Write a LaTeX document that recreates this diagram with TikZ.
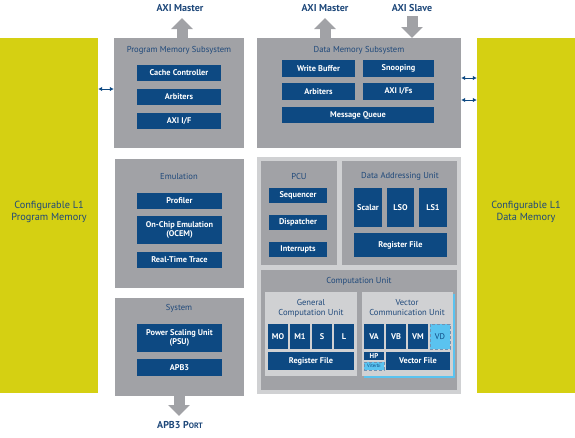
\documentclass[tikz,border=0pt]{standalone}
\usepackage{fontspec}
\setmainfont{PT Sans}
\usetikzlibrary{arrows.meta}
\definecolor{cyellow}{RGB}{213,208,18}
\definecolor{cgray}{RGB}{161,162,166}
\definecolor{clight}{RGB}{208,209,211}
\definecolor{cblue}{RGB}{13,73,130}
\definecolor{ctext}{RGB}{30,72,122}
\definecolor{clblue}{RGB}{90,195,240}
\tikzset{
  mem/.style={fill=cyellow, draw=none, inner sep=0, text=ctext, align=center, font=\fontsize{10.3}{12.5}\selectfont},
  sub/.style={fill=cgray, draw=none, inner sep=0},
  pale/.style={fill=clight, draw=none, inner sep=0},
  blk/.style={fill=cblue, draw=none, inner sep=0, text=white, align=center, font=\bfseries\fontsize{8.3}{9.5}\selectfont},
  dashblk/.style={fill=clblue, draw=cblue!60, densely dashed, line width=0.5pt, inner sep=0, text=cblue, align=center, font=\fontsize{8.3}{9.5}\selectfont},
  ttl/.style={text=ctext, inner sep=0, align=center, font=\fontsize{8.6}{10}\selectfont},
  port/.style={text=ctext, inner sep=0, font=\bfseries\fontsize{10}{12}\selectfont},
  bigarrow/.style={draw=cgray, line width=11pt, -{Triangle[width=21pt,length=11pt]}},
  dbl/.style={draw=cblue, line width=1pt, {Latex[length=4pt,width=4.5pt]}-{Latex[length=4pt,width=4.5pt]}}
}
\newcommand\bbox[7]{\node[#1, minimum width={(#5-#3)*1pt}, minimum height={(#6-#4)*1pt}] (#2) at ({(#3+#5)/2},{(#4+#6)/2}) {#7};}
\begin{document}
\begin{tikzpicture}[x=1pt,y=-1pt]
\useasboundingbox (0,0) rectangle (575,437);
% L1 memories
\bbox{mem}{lmem}{0}{38}{98}{393}{Configurable L1\\Program Memory\\[-3.5pt]}
\bbox{mem}{rmem}{477}{38}{575}{393}{Configurable L1\\Data Memory\\[-3.5pt]}
% Program memory subsystem
\bbox{sub}{pms}{114}{38}{244}{148}{}
\node[ttl] (pmst) at (179,50) {Program Memory Subsystem};
\bbox{blk}{cache}{137}{65}{221}{81}{Cache Controller}
\bbox{blk}{parb}{137}{89}{221}{105}{Arbiters}
\bbox{blk}{paxi}{137}{113}{221}{129}{AXI I/F}
% Data memory subsystem
\bbox{sub}{dms}{257}{38}{461}{148}{}
\node[ttl] (dmst) at (359,50) {Data Memory Subsystem};
\bbox{blk}{wbuf}{282}{60}{355}{77}{Write Buffer}
\bbox{blk}{snoop}{363}{60}{434}{77}{Snooping}
\bbox{blk}{darb}{282}{83}{355}{100}{Arbiters}
\bbox{blk}{daxi}{363}{83}{434}{100}{AXI I/Fs}
\bbox{blk}{mq}{282}{107}{434}{123}{Message Queue}
% top ports
\node[port] (axim1) at (180,8) {AXI Master};
\node[port] (axim2) at (325,8) {AXI Master};
\node[port] (axis) at (412,8) {AXI Slave};
\coordinate (p1) at (182,38);
\coordinate (p2) at (325,38);
\coordinate (p3) at (412,38);
\coordinate (q1) at (182,18);
\coordinate (q2) at (325,18);
\coordinate (q3) at (412,16);
\draw[bigarrow] (p1) -- (q1);
\draw[bigarrow] (p2) -- (q2);
\draw[bigarrow] (q3) -- (p3);
% Emulation
\bbox{sub}{emu}{115}{159}{244}{288}{}
\node[ttl] (emut) at (179,177) {Emulation};
\bbox{blk}{prof}{137}{193}{222}{209}{Profiler}
\bbox{blk}{ocem}{137}{216}{222}{244}{On-Chip Emulation\\(OCEM)}
\bbox{blk}{rtt}{137}{252}{222}{268}{Real-Time Trace}
% System
\bbox{sub}{sys}{115}{298}{244}{396}{}
\node[ttl] (syst) at (179,308) {System};
\bbox{blk}{psu}{137}{324}{222}{352}{Power Scaling Unit\\(PSU)}
\bbox{blk}{apb}{137}{359}{222}{376}{APB3}
\coordinate (s1) at (179,396);
\coordinate (s2) at (179,416);
\draw[bigarrow] (s1) -- (s2);
\node[port] (apbp) at (180,425) {APB3 P{\fontsize{7.8}{9}\selectfont ORT}};
% core
\bbox{pale}{core}{257}{157}{461}{394}{}
\bbox{sub}{pcu}{261}{161}{337}{265}{}
\node[ttl] (pcut) at (299,176) {PCU};
\bbox{blk}{seq}{269}{188}{327}{203}{Sequencer}
\bbox{blk}{disp}{269}{215}{327}{230}{Dispatcher}
\bbox{blk}{intr}{269}{242}{327}{257}{Interrupts}
\bbox{sub}{dau}{342}{161}{457}{265}{}
\node[ttl] (daut) at (400,176) {Data Addressing Unit};
\bbox{blk}{scal}{354}{188}{382}{227}{Scalar}
\bbox{blk}{lso}{387}{188}{414}{227}{LSO}
\bbox{blk}{lsi}{419}{188}{447}{227}{LS1}
\bbox{blk}{drf}{354}{233}{447}{257}{Register File}
\bbox{sub}{cu}{261}{270}{457}{390}{}
\node[ttl] (cut) at (359,281) {Computation Unit};
\bbox{pale}{gcu}{265}{292}{357}{376}{}
\node[ttl] (gcut) at (311,308) {General\\Computation Unit};
\bbox{blk}{mo}{268}{324}{288}{349}{MO}
\bbox{blk}{mi}{290}{324}{310}{349}{M1}
\bbox{blk}{ss}{312}{324}{332}{349}{S}
\bbox{blk}{ll}{334}{324}{354}{349}{L}
\bbox{blk}{grf}{268}{352}{354}{370}{Register File}
\fill[clblue] (364,294) rectangle (455,378);
\bbox{pale}{vcu}{362}{292}{453}{376}{}
\node[ttl] (vcut) at (407,308) {Vector\\Communication Unit};
\bbox{blk}{va}{364}{324}{384}{349}{VA}
\bbox{blk}{vb}{386}{324}{406}{349}{VB}
\bbox{blk}{vm}{408}{324}{428}{349}{VM}
\bbox{dashblk}{vd}{430}{324}{450}{349}{VD}
\bbox{blk}{hp}{364}{352}{384}{360}{\fontsize{7}{7}\selectfont HP}
\bbox{dashblk}{vit}{364}{362}{384}{370}{\fontsize{4.8}{5}\selectfont Viterbi}
\bbox{blk}{vf}{386}{352}{450}{370}{Vector File}
% memory links
\coordinate (y89) at (0,89);
\coordinate (y78) at (0,78);
\coordinate (y100) at (0,100);
\draw[dbl] (lmem.east |- y89) -- (pms.west |- y89);
\draw[dbl] (dms.east |- y78) -- (rmem.west |- y78);
\draw[dbl] (dms.east |- y100) -- (rmem.west |- y100);
\end{tikzpicture}
\end{document}
